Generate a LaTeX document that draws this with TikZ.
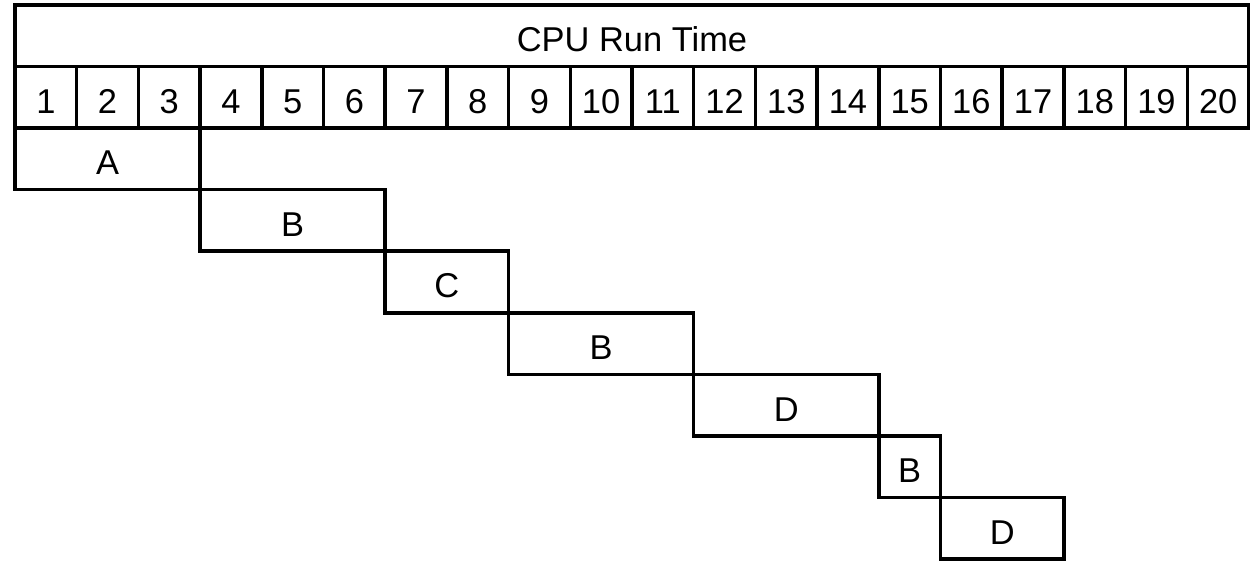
\documentclass[tikz,border=0pt]{standalone}
\usepackage{fontspec}
\setmainfont{Liberation Sans}
\usetikzlibrary{positioning}
\newcommand{\cw}{1.234cm}
\newcommand{\rh}{1.231cm}
\tikzset{
  cell/.style   = {shape=rectangle, draw, line width=2pt,
                   inner sep=0pt, outer sep=0pt,
                   minimum width=\cw, minimum height=\rh,
                   text height=18.2pt, text depth=0pt,
                   font=\fontsize{19.6}{23}\selectfont},
  header/.style = {cell, minimum width=20*\cw},
  task/.style   = {cell, anchor=north west}
}

\begin{document}
\begin{tikzpicture}
  \useasboundingbox (0,0) rectangle (25,-11.2);
  \node [header, anchor=north west] (head) at (0.3,-0.1) {CPU Run Time};
  \foreach \i in {1,...,20}
    \node [cell, anchor=north west] (n\i)
      at ([xshift={(\i-1)*\cw}]head.south west) {\i};
  % time slices
  \node [task, minimum width=3*\cw] (a1) at (n1.south west) {A};
  \node [task, minimum width=3*\cw] (b1) at (a1.south east) {B};
  \node [task, minimum width=2*\cw] (c1) at (b1.south east) {C};
  \node [task, minimum width=3*\cw] (b2) at (c1.south east) {B};
  \node [task, minimum width=3*\cw] (d1) at (b2.south east) {D};
  \node [task, minimum width=\cw]   (b3) at (d1.south east) {B};
  \node [task, minimum width=2*\cw] (d2) at (b3.south east) {D};
\end{tikzpicture}
\end{document}
